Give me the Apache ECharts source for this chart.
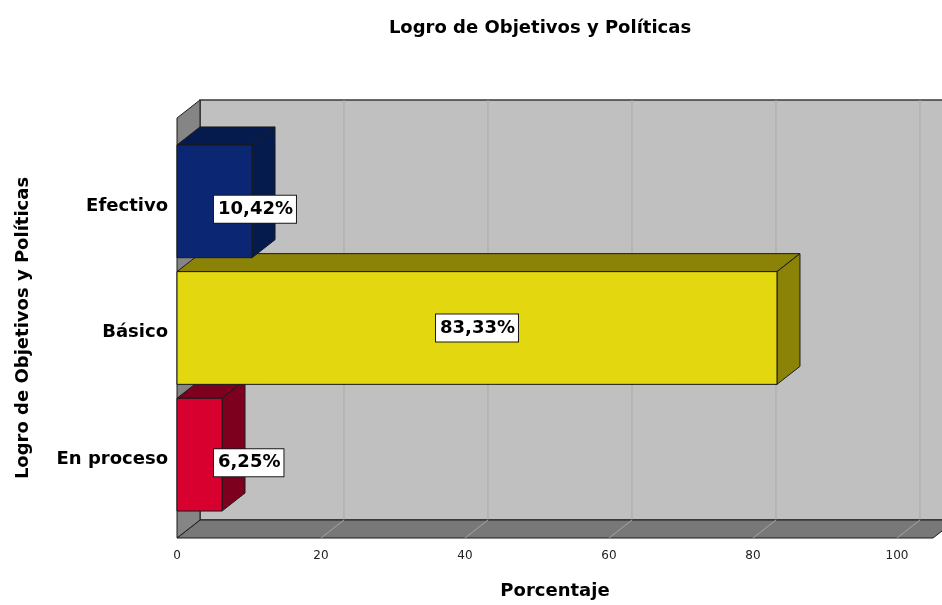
<!DOCTYPE html>
<html>
<head>
<meta charset="utf-8">
<script src="https://cdn.jsdelivr.net/npm/echarts@6/dist/echarts.min.js"></script>
<style>
  html, body { margin: 0; padding: 0; background: #ffffff; }
  #chart { width: 942px; height: 605px; }
</style>
</head>
<body>
<div id="chart"></div>
<script>
// Categories listed bottom-to-top so lower bars are painted first
const categories = ['En proceso', 'Básico', 'Efectivo'];
const percentages = [6.25, 83.33, 10.42];
const xTicks = [0, 20, 40, 60, 80, 100];

const FONT = 'DejaVu Sans';
const DEPTH_X = 23;    // oblique depth offset, horizontal
const DEPTH_Y = -18;   // oblique depth offset, vertical
const PAD = 20;        // wall overhang above/below the category bands
const BAR_RATIO = 0.89;

const frontColors = ['#d7002f', '#e3d70f', '#0b2672'];
const shadeColors = ['#7e001f', '#8b8208', '#061b4d'];

function fmtPct(v) {
  return v.toFixed(2).replace('.', ',') + '%';
}

// Back wall, left wall, floor and grid lines of the 3D frame
function renderFrame(params, api) {
  const cs = params.coordSys;
  const L = cs.x, R = cs.x + cs.width;
  const T = cs.y - PAD, B = cs.y + cs.height + PAD;
  const dx = DEPTH_X, dy = DEPTH_Y;
  const children = [];

  children.push({
    type: 'polygon',
    shape: { points: [[L + dx, T + dy], [R + dx, T + dy], [R + dx, B + dy], [L + dx, B + dy]] },
    style: { fill: '#c0c0c0', stroke: '#3a3a3a', lineWidth: 1.5 }
  });

  xTicks.forEach(t => {
    if (t === 0) return;
    const x = api.coord([t, 0])[0];
    children.push({
      type: 'line',
      shape: { x1: x + dx, y1: T + dy, x2: x + dx, y2: B + dy },
      style: { stroke: '#a9a9a9', lineWidth: 1 }
    });
  });

  children.push({
    type: 'polygon',
    shape: { points: [[L, B], [R, B], [R + dx, B + dy], [L + dx, B + dy]] },
    style: { fill: '#787878', stroke: '#1a1a1a', lineWidth: 1 }
  });

  xTicks.forEach(t => {
    if (t === 0) return;
    const x = api.coord([t, 0])[0];
    children.push({
      type: 'line',
      shape: { x1: x, y1: B, x2: x + dx, y2: B + dy },
      style: { stroke: '#a4a4a4', lineWidth: 1 }
    });
  });

  children.push({
    type: 'polygon',
    shape: { points: [[L, T], [L + dx, T + dy], [L + dx, B + dy], [L, B]] },
    style: { fill: '#858585', stroke: '#1a1a1a', lineWidth: 1 }
  });

  return { type: 'group', children: children };
}

// Oblique box bars with a boxed value label
function renderBar(params, api) {
  const idx = params.dataIndex;
  const val = api.value(0);
  const cat = api.value(1);
  const p0 = api.coord([0, cat]);
  const p1 = api.coord([val, cat]);
  const h = api.size([0, 1])[1] * BAR_RATIO;
  const x0 = p0[0], x1 = p1[0];
  const y0 = p1[1] - h / 2, y1 = y0 + h;
  const dx = DEPTH_X, dy = DEPTH_Y;
  const edge = { stroke: '#1a1a1a', lineWidth: 1, lineJoin: 'round' };

  const longBar = (x1 - x0) > 150;
  const label = {
    type: 'text',
    z2: 10,
    style: {
      text: fmtPct(val),
      x: longBar ? (x0 + x1) / 2 : x0 + 37,
      y: longBar ? p1[1] : p1[1] + 8,
      align: longBar ? 'center' : 'left',
      verticalAlign: 'middle',
      font: 'bold 18px "' + FONT + '"',
      fill: '#000000',
      backgroundColor: '#ffffff',
      borderColor: '#1a1a1a',
      borderWidth: 1,
      padding: [5, 3, 4, 4]
    }
  };

  return {
    type: 'group',
    children: [
      {
        type: 'polygon',
        shape: { points: [[x0, y0], [x1, y0], [x1 + dx, y0 + dy], [x0 + dx, y0 + dy]] },
        style: Object.assign({ fill: shadeColors[idx] }, edge)
      },
      {
        type: 'polygon',
        shape: { points: [[x1, y0], [x1 + dx, y0 + dy], [x1 + dx, y1 + dy], [x1, y1]] },
        style: Object.assign({ fill: shadeColors[idx] }, edge)
      },
      {
        type: 'rect',
        shape: { x: x0, y: y0, width: x1 - x0, height: h },
        style: Object.assign({ fill: frontColors[idx] }, edge)
      },
      label
    ]
  };
}

const chart = echarts.init(document.getElementById('chart'), null, { renderer: 'canvas' });

chart.setOption({
  animation: false,
  backgroundColor: '#ffffff',
  textStyle: { fontFamily: FONT },
  title: {
    text: 'Logro de Objetivos y Políticas',
    left: 535,
    top: 14,
    textAlign: 'center',
    textStyle: { fontFamily: FONT, fontSize: 18, fontWeight: 'bold', color: '#000000' }
  },
  grid: { left: 177, right: 9, top: 138, bottom: 86.5, containLabel: false },
  xAxis: {
    type: 'value',
    min: 0,
    max: 105,
    interval: 20,
    name: 'Porcentaje',
    nameLocation: 'middle',
    nameGap: 64,
    nameTextStyle: { fontFamily: FONT, fontSize: 18, fontWeight: 'bold', color: '#000000' },
    axisLine: { show: false },
    axisTick: { show: false },
    splitLine: { show: false },
    axisLabel: {
      customValues: xTicks,
      margin: 32,
      fontFamily: FONT,
      fontSize: 12,
      color: '#222222'
    }
  },
  yAxis: {
    type: 'category',
    data: categories,
    name: 'Logro de Objetivos y Políticas',
    nameLocation: 'middle',
    nameGap: 145,
    nameRotate: 90,
    nameTextStyle: { fontFamily: FONT, fontSize: 18, fontWeight: 'bold', color: '#000000' },
    axisLine: { show: false },
    axisTick: { show: false },
    splitLine: { show: false },
    axisLabel: {
      margin: 9,
      formatter: '{c|{value}}',
      rich: {
        c: {
          padding: [9, 0, 0, 0],
          fontFamily: FONT,
          fontSize: 18,
          fontWeight: 'bold',
          color: '#000000'
        }
      }
    }
  },
  series: [
    {
      type: 'custom',
      name: 'frame',
      z: 1,
      clip: false,
      silent: true,
      renderItem: renderFrame,
      data: [[0, 0]]
    },
    {
      type: 'custom',
      name: 'Porcentaje',
      z: 2,
      clip: false,
      renderItem: renderBar,
      encode: { x: 0, y: 1 },
      data: percentages.map((v, i) => [v, i])
    }
  ]
});
</script>
</body>
</html>
